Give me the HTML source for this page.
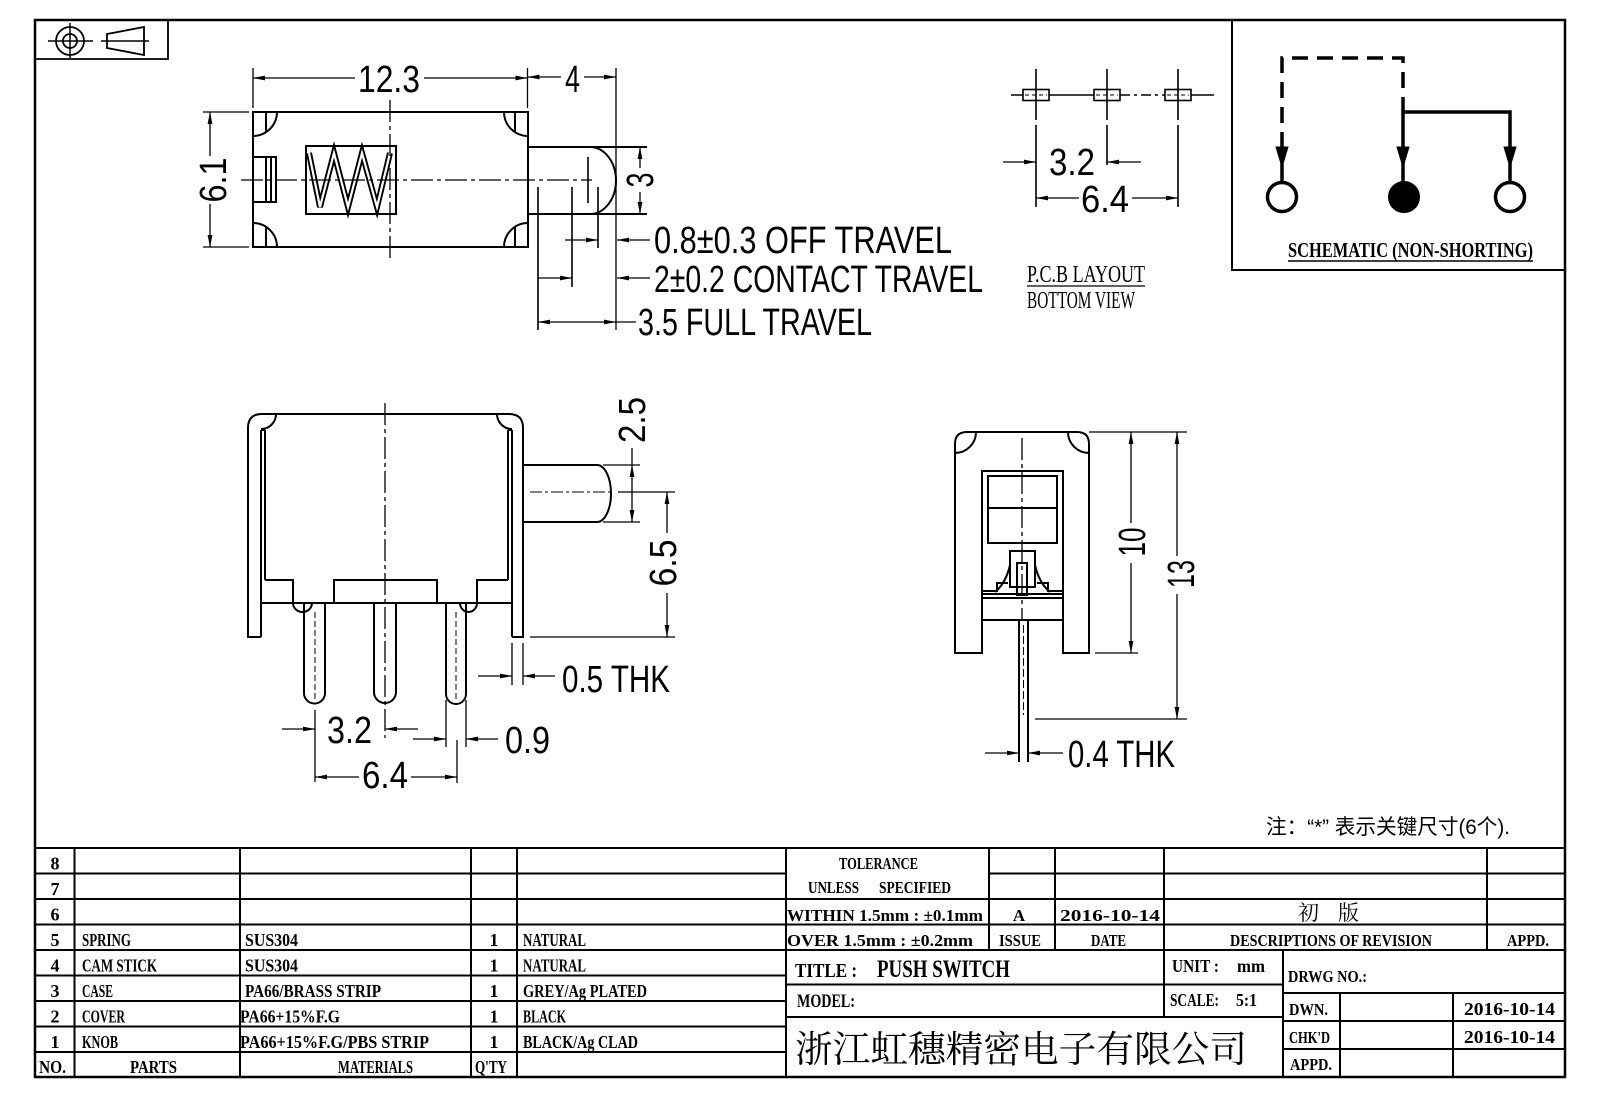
<!DOCTYPE html>
<html><head><meta charset="utf-8"><style>
html,body{margin:0;padding:0;background:#fff;}
svg{display:block;}
.d{font-family:"Liberation Sans",sans-serif;font-size:38px;fill:#000;stroke:none;}
.t{font-family:"Liberation Serif",serif;font-weight:bold;font-size:18px;fill:#000;stroke:none;}
.cj{font-family:"Liberation Serif","Noto Serif CJK SC",serif;fill:#000;stroke:none;}
.cs{font-family:"Liberation Sans","Noto Sans CJK SC",sans-serif;fill:#000;stroke:none;}
</style></head><body>
<svg width="1600" height="1100" viewBox="0 0 1600 1100" xmlns="http://www.w3.org/2000/svg">
<defs>
<marker id="a" viewBox="0 0 12 6" refX="12" refY="3" markerWidth="12" markerHeight="6" markerUnits="userSpaceOnUse" orient="auto-start-reverse"><path d="M0,0.6 L12,3 L0,5.4 Z" fill="#000"/></marker>
</defs>
<rect x="0" y="0" width="1600" height="1100" fill="#fff"/>
<g fill="none" stroke="#000">
<!-- frame -->
<rect x="35" y="20" width="1530" height="1057" stroke-width="2.5"/>
<path d="M168,20 V59 H35" stroke-width="1.8"/>
<circle cx="70" cy="41" r="14" stroke-width="1.8"/>
<circle cx="70" cy="41" r="7" stroke-width="1.8"/>
<path d="M48,41 H93 M70,23 V58" stroke-width="1.5"/>
<path d="M107,34 L144,27 L144,55 L107,48 Z" stroke-width="1.8"/>
<path d="M101,41 H149" stroke-width="1.5"/>

<!-- TOP VIEW -->
<g stroke-width="2">
<rect x="253" y="112" width="275" height="135"/>
<path d="M277,112 A24,24 0 0 1 253,136 M266,112 V132 M277,247 A24,24 0 0 0 253,223 M266,247 V227 M504,112 A24,24 0 0 0 528,136 M515,112 V132 M504,247 A24,24 0 0 1 528,223 M515,247 V227"/>
<rect x="253" y="157" width="23" height="45"/>
<path d="M266,157 V202 M271,157 V202"/>
<rect x="306" y="146" width="90" height="68"/>
<path d="M528,147 H647 M528,214 H647 M590,147 A26,33.5 0 0 1 590,214"/>
</g>
<polyline points="309,153 320,207 334,153 348,207 362,153 377,207 390,153" stroke-width="6"/>
<polyline points="309,153 320,207 334,153 348,207 362,153 377,207 390,153" stroke="#fff" stroke-width="2.2"/>
<path d="M241,180 H592 M390,100 V260" stroke-width="1.3" stroke-dasharray="22 4 4 4"/>
<g stroke-width="1.3">
<path d="M253,68 V108 M527.5,68 V108 M616,68 V330"/>
<line x1="253" y1="78" x2="355" y2="78" marker-start="url(#a)"/>
<line x1="424" y1="78" x2="527.5" y2="78" marker-end="url(#a)"/>
<line x1="527.5" y1="77" x2="561" y2="77" marker-start="url(#a)"/>
<line x1="584" y1="77" x2="616" y2="77" marker-end="url(#a)"/>
<path d="M203,112 H249 M203,247 H249"/>
<line x1="210" y1="112" x2="210" y2="156" marker-start="url(#a)"/>
<line x1="210" y1="204" x2="210" y2="247" marker-end="url(#a)"/>
<line x1="640" y1="147" x2="640" y2="168" marker-start="url(#a)"/>
<line x1="640" y1="192" x2="640" y2="214" marker-end="url(#a)"/>
<path d="M588,157 V203 M598,187 V248 M538,187 V330 M572,187 V287" stroke-width="1.6"/>
<line x1="565" y1="240" x2="598" y2="240" marker-end="url(#a)"/>
<line x1="650" y1="240" x2="617" y2="240" marker-end="url(#a)"/>
<line x1="538" y1="278" x2="572" y2="278" marker-end="url(#a)"/>
<line x1="650" y1="278" x2="617" y2="278" marker-end="url(#a)"/>
<line x1="538" y1="322" x2="616" y2="322" marker-start="url(#a)" marker-end="url(#a)"/>
<line x1="616" y1="322" x2="636" y2="322"/>
</g>

<!-- PCB LAYOUT -->
<g stroke-width="1.6">
<rect x="1023" y="89.5" width="26" height="11"/>
<rect x="1094" y="89.5" width="26" height="11"/>
<rect x="1165" y="89.5" width="26" height="11"/>
<path d="M1011,95 H1023 M1049,95 H1094 M1191,95 H1214"/>
<path d="M1120,95 H1165" stroke-dasharray="10 4 3 4"/>
<path d="M1025,95 H1047 M1096,95 H1118 M1167,95 H1189" stroke-width="1" stroke-dasharray="4 3"/>
<path d="M1036,69 V120 M1036,125 V207 M1107,69 V120 M1107,125 V165 M1178,69 V120 M1178,125 V207"/>
</g>
<g stroke-width="1.3">
<line x1="1003" y1="162" x2="1036" y2="162" marker-end="url(#a)"/>
<line x1="1141" y1="162" x2="1107" y2="162" marker-end="url(#a)"/>
<line x1="1036" y1="198" x2="1079" y2="198" marker-start="url(#a)"/>
<line x1="1132" y1="198" x2="1178" y2="198" marker-end="url(#a)"/>
<path d="M1027,286 H1145"/>
</g>

<!-- SCHEMATIC -->
<path d="M1232,20 V270 H1565" stroke-width="2"/>
<path d="M1282,148 V58 H1403 V107" stroke-width="3.5" stroke-dasharray="16 9"/>
<path d="M1403,107 V182 M1403,112 H1510 V182 M1282,160 V182" stroke-width="3.5"/>
<path d="M1276,147 H1288 L1282,167 Z M1397,147 H1409 L1403,167 Z M1504,147 H1516 L1510,167 Z" fill="#000" stroke-width="1"/>
<circle cx="1282" cy="197" r="14.5" stroke-width="3.5" fill="#fff"/>
<circle cx="1404" cy="197" r="15.5" fill="#000" stroke-width="1"/>
<circle cx="1510" cy="197" r="14.5" stroke-width="3.5" fill="#fff"/>
<path d="M1288,261 H1533" stroke-width="1.5"/>

<!-- SIDE VIEW -->
<g stroke-width="2">
<path d="M261,637 H248 V428 Q248,414 262,414 H509 Q523,414 523,428 V637 H512"/>
<path d="M261,430 V637 M512,430 V637 M261,430 H265 M508,430 H512 M265,430 V580 M508,430 V580"/>
<path d="M276,414 A15,15 0 0 1 261,429 M497,414 A15,15 0 0 0 512,429"/>
<path d="M265,580 H293 V603 M334,603 V580 H437 V603 M477,603 V580 H508 M261,603 H512"/>
<path d="M304,603 V693 A10.5,10.5 0 0 0 325,693 V603"/>
<path d="M374,603 V692 A11,11 0 0 0 396,692 V603"/>
<path d="M446,603 V694 A10,10 0 0 0 466,694 V603"/>
<path d="M293,603 A9.5,9 0 0 0 312,603 M460,603 A8.5,9 0 0 0 477,603"/>
<path d="M523,465 H597 A14,28.5 0 0 1 597,522 H523"/>
</g>
<path d="M315,612 V700 M456,612 V700" stroke-width="1" stroke-dasharray="6 3"/>
<path d="M385,403 V737" stroke-width="1.3" stroke-dasharray="22 4 4 4"/>
<path d="M530,492 H612" stroke-width="1" stroke-dasharray="12 3 3 3"/>
<g stroke-width="1.3">
<path d="M603,465 H640 M603,522 H640 M618,492 H675 M530,637 H675"/>
<line x1="632" y1="448" x2="632" y2="465"/>
<line x1="632" y1="465" x2="632" y2="522" marker-start="url(#a)" marker-end="url(#a)"/>
<line x1="667" y1="492" x2="667" y2="533" marker-start="url(#a)"/>
<line x1="667" y1="593" x2="667" y2="637" marker-end="url(#a)"/>
<path d="M512,643 V685 M523,643 V685"/>
<line x1="478" y1="676" x2="512" y2="676" marker-end="url(#a)"/>
<line x1="555" y1="676" x2="523" y2="676" marker-end="url(#a)"/>
<path d="M315,710 V782 M385,737 V738 M446,700 V747 M466,700 V747 M457,740 V783"/>
<line x1="282" y1="729" x2="315" y2="729" marker-end="url(#a)"/>
<line x1="418" y1="729" x2="385" y2="729" marker-end="url(#a)"/>
<line x1="413" y1="739" x2="446" y2="739" marker-end="url(#a)"/>
<line x1="498" y1="739" x2="466" y2="739" marker-end="url(#a)"/>
<line x1="315" y1="777" x2="359" y2="777" marker-start="url(#a)"/>
<line x1="411" y1="777" x2="457" y2="777" marker-end="url(#a)"/>
</g>

<!-- FRONT VIEW -->
<g stroke-width="2">
<path d="M982,653 H955 V444 Q955,432 967,432 H1077 Q1089,432 1089,444 V653 H1063 V471 H982 Z"/>
<path d="M976,432 A21,21 0 0 1 955,453 M1068,432 A21,21 0 0 0 1089,453"/>
<rect x="988" y="476" width="69" height="67"/>
<path d="M988,508 H1057"/>
<rect x="1010" y="551" width="25" height="36"/>
<rect x="1017" y="563" width="10" height="32"/>
<path d="M983,591 H997 V583 H1008 M1037,583 H1048 V591 H1062 M983,594 H1062 M982,598 H1063 M982,620 H1063"/>
<path d="M1010,565 Q1006,583 995,592 M1035,565 Q1039,583 1050,592"/>
<path d="M1019,620 V762 M1028,620 V762"/>
</g>
<path d="M1022,438 V620" stroke-width="1.3" stroke-dasharray="22 4 4 4"/>
<path d="M1023.5,625 V715" stroke-width="1" stroke-dasharray="8 3"/>
<g stroke-width="1.3">
<path d="M1089,432 H1187 M1095,653 H1138 M1035,719 H1187"/>
<line x1="1131" y1="432" x2="1131" y2="523" marker-start="url(#a)"/>
<line x1="1131" y1="563" x2="1131" y2="653" marker-end="url(#a)"/>
<line x1="1177" y1="432" x2="1177" y2="556" marker-start="url(#a)"/>
<line x1="1177" y1="594" x2="1177" y2="719" marker-end="url(#a)"/>
<line x1="985" y1="753" x2="1019" y2="753" marker-end="url(#a)"/>
<line x1="1063" y1="753" x2="1028" y2="753" marker-end="url(#a)"/>
</g>

<!-- TABLE -->
<g stroke-width="2">
<path d="M35,848 H1565"/>
<path d="M35,873.5 H786 M35,899 H786 M35,924.5 H786 M35,950 H786 M35,975.5 H786 M35,1001 H786 M35,1026.5 H786 M35,1052 H786"/>
<path d="M74.5,848 V1077 M240,848 V1077 M471,848 V1077 M517,848 V1077 M786,848 V1077"/>
<path d="M989,873.5 H1565 M786,899 H1565 M786,924.5 H1565 M786,950 H1565"/>
<path d="M989,848 V950 M1055,848 V950 M1164,848 V950 M1487,848 V950"/>
<path d="M786,984.5 H1283 M786,1017 H1283 M1164,950 V1017 M1283,950 V1077"/>
<path d="M1283,993 H1565 M1283,1021 H1565 M1283,1049 H1565 M1340,993 V1077 M1453,993 V1077"/>
</g>
</g>

<!-- TEXT: dimensions -->
<g>
<text class="d" x="358" y="92" textLength="62" lengthAdjust="spacingAndGlyphs">12.3</text>
<text class="d" x="565" y="92" textLength="15" lengthAdjust="spacingAndGlyphs">4</text>
<text class="d" x="226" y="180" text-anchor="middle" transform="rotate(-90 226 180)" textLength="45" lengthAdjust="spacingAndGlyphs">6.1</text>
<text class="d" x="653" y="180" text-anchor="middle" transform="rotate(-90 653 180)" textLength="15" lengthAdjust="spacingAndGlyphs">3</text>
<text class="d" x="654" y="253" textLength="298" lengthAdjust="spacingAndGlyphs">0.8±0.3 OFF TRAVEL</text>
<text class="d" x="654" y="292" textLength="329" lengthAdjust="spacingAndGlyphs">2±0.2 CONTACT TRAVEL</text>
<text class="d" x="638" y="335" textLength="234" lengthAdjust="spacingAndGlyphs">3.5 FULL TRAVEL</text>

<text class="d" x="1049" y="175" textLength="46" lengthAdjust="spacingAndGlyphs">3.2</text>
<text class="d" x="1081" y="212" textLength="48" lengthAdjust="spacingAndGlyphs">6.4</text>
<text class="t" x="1027" y="282" style="font-size:24px;font-weight:normal" textLength="118" lengthAdjust="spacingAndGlyphs">P.C.B LAYOUT</text>
<text class="t" x="1027" y="308" style="font-size:24px;font-weight:normal" textLength="108" lengthAdjust="spacingAndGlyphs">BOTTOM VIEW</text>
<text class="t" x="1288" y="257" style="font-size:21px" textLength="245" lengthAdjust="spacingAndGlyphs">SCHEMATIC (NON-SHORTING)</text>

<text class="d" x="645" y="420" text-anchor="middle" transform="rotate(-90 645 420)" textLength="46" lengthAdjust="spacingAndGlyphs">2.5</text>
<text class="d" x="676" y="563" text-anchor="middle" transform="rotate(-90 676 563)" textLength="47" lengthAdjust="spacingAndGlyphs">6.5</text>
<text class="d" x="562" y="692" textLength="108" lengthAdjust="spacingAndGlyphs">0.5 THK</text>
<text class="d" x="327" y="743" textLength="45" lengthAdjust="spacingAndGlyphs">3.2</text>
<text class="d" x="505" y="753" textLength="45" lengthAdjust="spacingAndGlyphs">0.9</text>
<text class="d" x="362" y="788" textLength="46" lengthAdjust="spacingAndGlyphs">6.4</text>

<text class="d" x="1145" y="542" text-anchor="middle" transform="rotate(-90 1145 542)" textLength="29" lengthAdjust="spacingAndGlyphs">10</text>
<text class="d" x="1194" y="574" text-anchor="middle" transform="rotate(-90 1194 574)" textLength="28" lengthAdjust="spacingAndGlyphs">13</text>
<text class="d" x="1068" y="767" textLength="107" lengthAdjust="spacingAndGlyphs">0.4 THK</text>

<text class="cs" x="1266" y="834" style="font-size:21px" textLength="244" lengthAdjust="spacingAndGlyphs">注：“*” 表示关键尺寸(6个).</text>
</g>

<!-- TEXT: parts table -->
<g>
<text class="t" x="55" y="869.5" text-anchor="middle">8</text>
<text class="t" x="55" y="895" text-anchor="middle">7</text>
<text class="t" x="55" y="920.5" text-anchor="middle">6</text>
<text class="t" x="55" y="946" text-anchor="middle">5</text>
<text class="t" x="55" y="971.5" text-anchor="middle">4</text>
<text class="t" x="55" y="997" text-anchor="middle">3</text>
<text class="t" x="55" y="1022.5" text-anchor="middle">2</text>
<text class="t" x="55" y="1048" text-anchor="middle">1</text>
<text class="t" x="39" y="1073" textLength="27" lengthAdjust="spacingAndGlyphs">NO.</text>

<text class="t" x="82" y="946" textLength="49" lengthAdjust="spacingAndGlyphs">SPRING</text>
<text class="t" x="82" y="971.5" textLength="75" lengthAdjust="spacingAndGlyphs">CAM STICK</text>
<text class="t" x="82" y="997" textLength="31" lengthAdjust="spacingAndGlyphs">CASE</text>
<text class="t" x="82" y="1022.5" textLength="43" lengthAdjust="spacingAndGlyphs">COVER</text>
<text class="t" x="82" y="1048" textLength="36" lengthAdjust="spacingAndGlyphs">KNOB</text>
<text class="t" x="130" y="1073" textLength="47" lengthAdjust="spacingAndGlyphs">PARTS</text>

<text class="t" x="245" y="946" textLength="53" lengthAdjust="spacingAndGlyphs">SUS304</text>
<text class="t" x="245" y="971.5" textLength="53" lengthAdjust="spacingAndGlyphs">SUS304</text>
<text class="t" x="245" y="997" textLength="136" lengthAdjust="spacingAndGlyphs">PA66/BRASS STRIP</text>
<text class="t" x="240" y="1022.5" textLength="100" lengthAdjust="spacingAndGlyphs">PA66+15%F.G</text>
<text class="t" x="240" y="1048" textLength="189" lengthAdjust="spacingAndGlyphs">PA66+15%F.G/PBS STRIP</text>
<text class="t" x="338" y="1073" textLength="75" lengthAdjust="spacingAndGlyphs">MATERIALS</text>

<text class="t" x="494" y="946" text-anchor="middle">1</text>
<text class="t" x="494" y="971.5" text-anchor="middle">1</text>
<text class="t" x="494" y="997" text-anchor="middle">1</text>
<text class="t" x="494" y="1022.5" text-anchor="middle">1</text>
<text class="t" x="494" y="1048" text-anchor="middle">1</text>
<text class="t" x="475" y="1073" textLength="32" lengthAdjust="spacingAndGlyphs">Q'TY</text>

<text class="t" x="523" y="946" textLength="63" lengthAdjust="spacingAndGlyphs">NATURAL</text>
<text class="t" x="523" y="971.5" textLength="63" lengthAdjust="spacingAndGlyphs">NATURAL</text>
<text class="t" x="523" y="997" textLength="124" lengthAdjust="spacingAndGlyphs">GREY/Ag PLATED</text>
<text class="t" x="523" y="1022.5" textLength="43" lengthAdjust="spacingAndGlyphs">BLACK</text>
<text class="t" x="523" y="1048" textLength="115" lengthAdjust="spacingAndGlyphs">BLACK/Ag CLAD</text>
</g>

<!-- TEXT: revision / title block -->
<g>
<text class="t" x="839" y="869" style="font-size:17px" textLength="79" lengthAdjust="spacingAndGlyphs">TOLERANCE</text>
<text class="t" x="808" y="893" style="font-size:17px" textLength="51" lengthAdjust="spacingAndGlyphs">UNLESS</text>
<text class="t" x="879" y="893" style="font-size:17px" textLength="72" lengthAdjust="spacingAndGlyphs">SPECIFIED</text>
<text class="t" x="787" y="921" style="font-size:17px" textLength="196" lengthAdjust="spacingAndGlyphs">WITHIN 1.5mm : ±0.1mm</text>
<text class="t" x="787" y="946" style="font-size:17px" textLength="186" lengthAdjust="spacingAndGlyphs">OVER 1.5mm : ±0.2mm</text>
<text class="t" x="1019" y="921" style="font-size:17px" text-anchor="middle">A</text>
<text class="t" x="1060" y="921" style="font-size:17px" textLength="100" lengthAdjust="spacingAndGlyphs">2016-10-14</text>
<text class="cj" x="1298" y="920" style="font-size:21px">初</text>
<text class="cj" x="1338" y="920" style="font-size:21px">版</text>
<text class="t" x="999" y="946" style="font-size:17px" textLength="42" lengthAdjust="spacingAndGlyphs">ISSUE</text>
<text class="t" x="1091" y="946" style="font-size:17px" textLength="35" lengthAdjust="spacingAndGlyphs">DATE</text>
<text class="t" x="1230" y="946" style="font-size:17px" textLength="202" lengthAdjust="spacingAndGlyphs">DESCRIPTIONS OF REVISION</text>
<text class="t" x="1507" y="946" style="font-size:17px" textLength="42" lengthAdjust="spacingAndGlyphs">APPD.</text>

<text class="t" x="795" y="977" style="font-size:20px" textLength="62" lengthAdjust="spacingAndGlyphs">TITLE :</text>
<text class="t" x="877" y="977" style="font-size:25px" textLength="133" lengthAdjust="spacingAndGlyphs">PUSH SWITCH</text>
<text class="t" x="1172" y="972" style="font-size:18px" textLength="47" lengthAdjust="spacingAndGlyphs">UNIT :</text>
<text class="t" x="1237" y="972" style="font-size:18px" textLength="28" lengthAdjust="spacingAndGlyphs">mm</text>
<text class="t" x="1288" y="982" style="font-size:17px" textLength="79" lengthAdjust="spacingAndGlyphs">DRWG NO.:</text>
<text class="t" x="797" y="1007" style="font-size:19px" textLength="58" lengthAdjust="spacingAndGlyphs">MODEL:</text>
<text class="t" x="1170" y="1006" style="font-size:18px" textLength="49" lengthAdjust="spacingAndGlyphs">SCALE:</text>
<text class="t" x="1236" y="1006" style="font-size:18px" textLength="21" lengthAdjust="spacingAndGlyphs">5:1</text>
<text class="cj" x="795" y="1062" style="font-size:37px" textLength="452" lengthAdjust="spacingAndGlyphs">浙江虹穗精密电子有限公司</text>
<text class="t" x="1289" y="1015" style="font-size:17px" textLength="39" lengthAdjust="spacingAndGlyphs">DWN.</text>
<text class="t" x="1464" y="1015" style="font-size:18px" textLength="91" lengthAdjust="spacingAndGlyphs">2016-10-14</text>
<text class="t" x="1289" y="1043" style="font-size:17px" textLength="41" lengthAdjust="spacingAndGlyphs">CHK'D</text>
<text class="t" x="1464" y="1043" style="font-size:18px" textLength="91" lengthAdjust="spacingAndGlyphs">2016-10-14</text>
<text class="t" x="1290" y="1070" style="font-size:17px" textLength="42" lengthAdjust="spacingAndGlyphs">APPD.</text>
</g>
</svg>
</body></html>
